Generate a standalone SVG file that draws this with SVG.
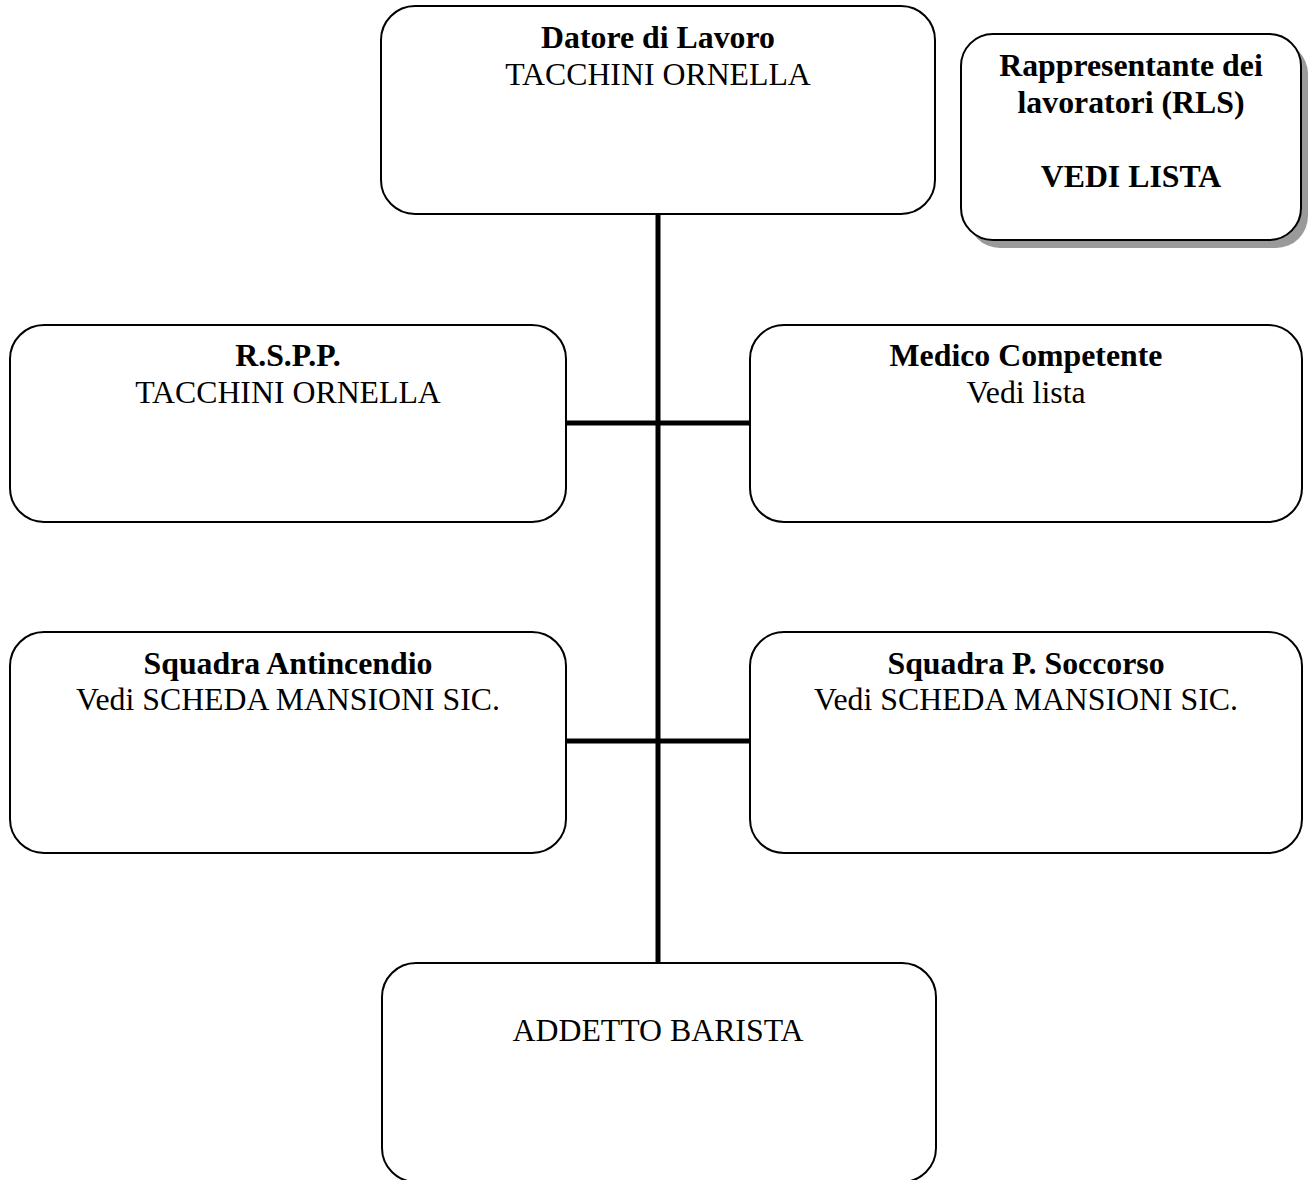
<svg xmlns="http://www.w3.org/2000/svg" width="1308" height="1180" viewBox="0 0 1308 1180">
<style>
.box{fill:#fff;stroke:#000;stroke-width:2}
.shadow{fill:#9a9a9a}
.conn{stroke:#000;stroke-width:5;fill:none}
text{font-family:"Liberation Serif","Times New Roman",serif;font-size:31.8px;fill:#000;text-anchor:middle}
.b{font-weight:bold}
</style>
<rect width="1308" height="1180" fill="#fff"/>
<g id="connectors">
<line class="conn" x1="658" y1="214" x2="658" y2="963"/>
<line class="conn" x1="566" y1="423" x2="750" y2="423"/>
<line class="conn" x1="566" y1="741" x2="750" y2="741"/>
</g>
<g id="datore">
<rect class="box" x="381" y="6" width="554" height="208" rx="34"/>
<text class="b" x="658" y="48">Datore di Lavoro</text>
<text x="658" y="85">TACCHINI ORNELLA</text>
</g>
<g id="rls">
<rect class="shadow" x="968" y="42" width="340" height="206" rx="32"/>
<rect class="box" x="961" y="34" width="340" height="206" rx="32"/>
<text class="b" x="1131" y="76">Rappresentante dei</text>
<text class="b" x="1131" y="113">lavoratori (RLS)</text>
<text class="b" x="1131" y="187">VEDI LISTA</text>
</g>
<g id="rspp">
<rect class="box" x="10" y="325" width="556" height="197" rx="34"/>
<text class="b" x="288" y="366">R.S.P.P.</text>
<text x="288" y="403">TACCHINI ORNELLA</text>
</g>
<g id="medico">
<rect class="box" x="750" y="325" width="552" height="197" rx="34"/>
<text class="b" x="1026" y="366">Medico Competente</text>
<text x="1026" y="403">Vedi lista</text>
</g>
<g id="antincendio">
<rect class="box" x="10" y="632" width="556" height="221" rx="34"/>
<text class="b" x="288" y="674">Squadra Antincendio</text>
<text x="288" y="710">Vedi SCHEDA MANSIONI SIC.</text>
</g>
<g id="soccorso">
<rect class="box" x="750" y="632" width="552" height="221" rx="34"/>
<text class="b" x="1026" y="674">Squadra P. Soccorso</text>
<text x="1026" y="710">Vedi SCHEDA MANSIONI SIC.</text>
</g>
<g id="addetto">
<rect class="box" x="382" y="963" width="554" height="219" rx="34"/>
<text x="658" y="1041">ADDETTO BARISTA</text>
</g>
</svg>
